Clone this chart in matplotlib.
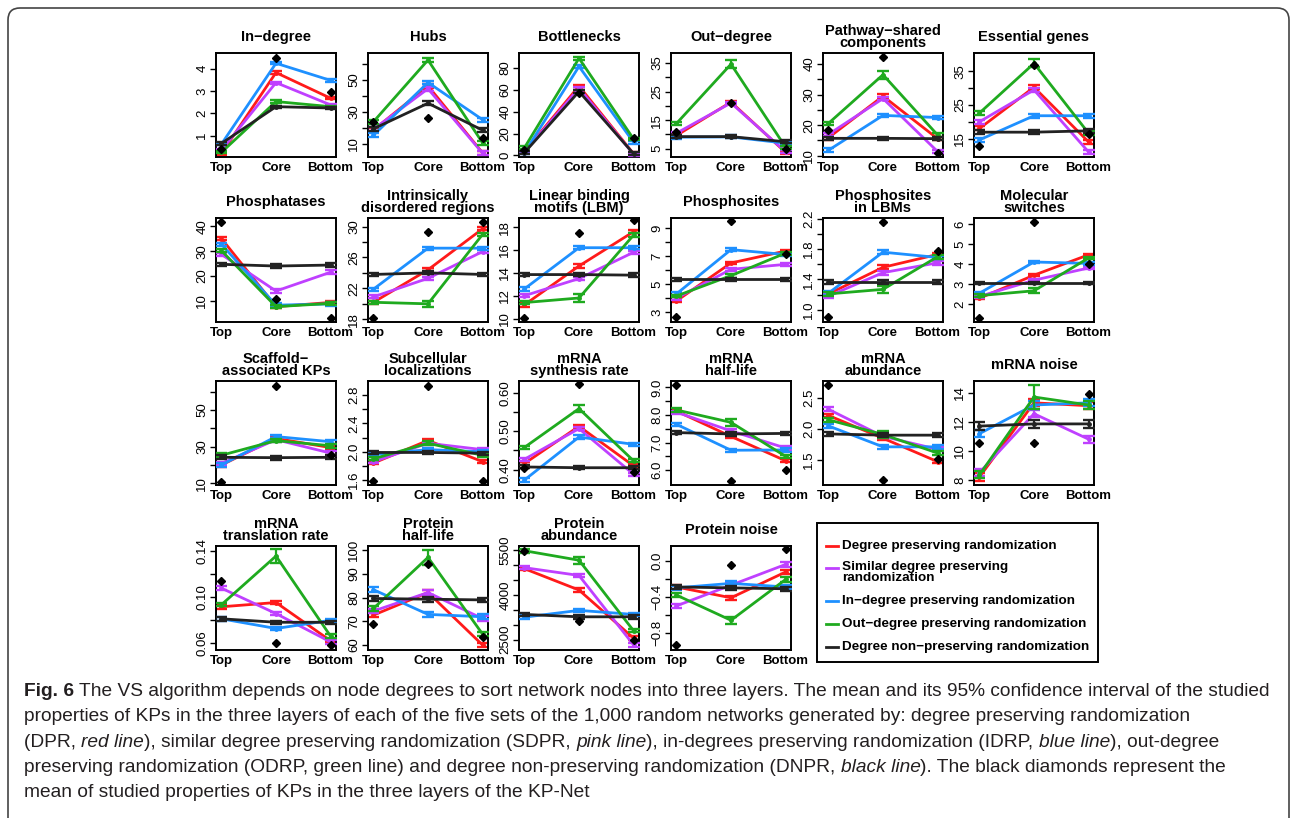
import numpy as np
import matplotlib
matplotlib.use('Agg')
import matplotlib.pyplot as plt
from matplotlib.patches import Rectangle, FancyBboxPatch
from matplotlib.lines import Line2D
from matplotlib.transforms import IdentityTransform
from matplotlib import font_manager

# ---- data ----
layers = ['Top', 'Core', 'Bottom']
titles = ['In\u2212degree', 'Hubs', 'Bottlenecks', 'Out\u2212degree',
          'Pathway\u2212shared\ncomponents', 'Essential genes',
          'Phosphatases', 'Intrinsically\ndisordered regions', 'Linear binding\nmotifs (LBM)',
          'Phosphosites', 'Phosphosites\nin LBMs', 'Molecular\nswitches',
          'Scaffold\u2212\nassociated KPs', 'Subcellular\nlocalizations', 'mRNA\nsynthesis rate',
          'mRNA\nhalf-life', 'mRNA\nabundance', 'mRNA noise',
          'mRNA\ntranslation rate', 'Protein\nhalf-life', 'Protein\nabundance', 'Protein noise']

# degree preserving randomization (red)
dpr = [[0.20, 3.83, 2.68], [18.5, 46.2, 4.2], [3.5, 63.5, 1.5], [9.6, 21.3, 3.7],
       [15.9, 29.5, 15.6], [18.0, 30.3, 14.0], [35.1, 7.6, 9.3], [20.2, 24.4, 29.7],
       [11.2, 14.6, 17.6], [3.8, 6.5, 7.35], [1.21, 1.56, 1.73], [2.29, 3.44, 4.46],
       [20.0, 34.5, 29.5], [1.84, 2.16, 1.86], [0.416, 0.513, 0.41], [8.14, 7.22, 6.34],
       [2.22, 1.85, 1.47], [8.2, 13.3, 13.1], [0.0914, 0.0951, 0.062], [72.6, 82.1, 60.0],
       [4875, 4159, 2545], [-0.29, -0.41, -0.124]]
# similar degree preserving randomization (purple)
sdpr = [[0.35, 3.38, 2.38], [19.0, 44.4, 4.0], [3.0, 61.5, 1.0], [10.4, 21.0, 3.9],
        [17.0, 28.7, 11.4], [20.0, 29.5, 11.0], [28.7, 13.9, 21.5], [20.9, 23.3, 26.75],
        [12.0, 13.5, 15.8], [4.0, 6.05, 6.4], [1.18, 1.49, 1.62], [2.38, 3.19, 3.8],
        [20.9, 33.8, 26.5], [1.86, 2.12, 2.03], [0.427, 0.507, 0.388], [8.10, 7.42, 6.8],
        [2.32, 1.88, 1.67], [8.5, 12.55, 10.8], [0.1075, 0.0855, 0.061], [74.3, 82.1, 71.1],
        [4909, 4648, 2318], [-0.50, -0.27, -0.04]]
# in-degree preserving randomization (blue)
idrp = [[0.62, 4.25, 3.48], [15.2, 48.3, 25.0], [2.5, 81.5, 12.0], [9.0, 9.1, 6.9],
        [11.8, 23.2, 22.5], [14.6, 21.8, 21.8], [32.8, 8.2, 8.7], [21.9, 27.2, 27.2],
        [12.6, 16.2, 16.2], [4.3, 7.45, 7.1], [1.22, 1.76, 1.69], [2.54, 4.1, 4.03],
        [20.0, 35.5, 32.7], [1.96, 2.03, 2.0], [0.373, 0.485, 0.466], [7.66, 6.72, 6.73],
        [2.05, 1.71, 1.71], [11.18, 13.15, 13.3], [0.081, 0.0726, 0.0797], [83.3, 72.9, 71.9],
        [3250, 3477, 3341], [-0.30, -0.25, -0.29]]
# out-degree preserving randomization (green)
odrp = [[0.25, 2.53, 2.30], [23.7, 62.4, 10.5], [7.0, 89.0, 15.0], [13.8, 34.6, 5.5],
        [20.6, 36.5, 16.8], [22.6, 37.4, 16.6], [30.2, 7.6, 8.9], [20.2, 20.0, 28.97],
        [11.4, 11.8, 17.3], [4.15, 5.6, 7.2], [1.21, 1.27, 1.70], [2.42, 2.66, 4.3],
        [25.3, 33.3, 30.5], [1.90, 2.12, 1.95], [0.458, 0.559, 0.423], [8.18, 7.73, 6.5],
        [2.15, 1.91, 1.61], [8.35, 13.7, 13.15], [0.0932, 0.1353, 0.066], [75.4, 96.9, 64.6],
        [5477, 5159, 2795], [-0.38, -0.66, -0.207]]
# degree non-preserving randomization (black)
dnpr = [[0.65, 2.30, 2.24], [19.3, 35.3, 18.4], [2.5, 58.5, 1.5], [9.2, 9.2, 7.4],
        [15.7, 15.7, 15.6], [16.9, 16.9, 17.3], [24.7, 24.0, 24.4], [23.8, 24.0, 23.8],
        [13.85, 13.85, 13.8], [5.35, 5.35, 5.35], [1.37, 1.37, 1.37], [3.05, 3.05, 3.05],
        [24.2, 24.0, 24.2], [1.99, 1.99, 1.98], [0.407, 0.405, 0.405], [7.36, 7.31, 7.33],
        [1.92, 1.90, 1.90], [11.7, 11.85, 11.85], [0.081, 0.078, 0.078], [79.6, 79.3, 79.0],
        [3341, 3261, 3261], [-0.29, -0.30, -0.31]]
# KP-Net (black diamonds)
kpnet = [[0.42, 4.50, 2.97], [23.5, 26.0, 13.7], [5.2, 57.0, 16.3], [10.9, 21.0, 5.0],
         [18.3, 42.2, 10.9], [12.8, 37.0, 16.5], [41.6, 10.7, 3.1], [18.2, 29.3, 30.6],
         [10.05, 17.5, 18.6], [2.65, 9.5, 7.15], [0.90, 2.16, 1.77], [1.32, 6.1, 4.0],
         [11.0, 63.3, 25.3], [1.58, 2.93, 1.58], [0.405, 0.622, 0.395], [9.08, 5.6, 6.02],
         [2.72, 1.17, 1.52], [10.57, 10.57, 13.88], [0.1136, 0.060, 0.058], [68.9, 94.3, 63.3],
         [5477, 3114, 2489], [-0.94, -0.05, 0.128]]

# half-width of the 95% CI (typical per panel) and for the green core point
ci = [0.05, 1.2, 1.2, 0.5, 0.6, 0.6, 0.7, 0.2, 0.15, 0.1, 0.025, 0.06,
      1.0, 0.02, 0.004, 0.06, 0.03, 0.25, 0.0015, 1.0, 60, 0.025]
odrp_core_ci = [0.06, 1.5, 1.5, 1.5, 1.3, 1.2, 0.7, 0.4, 0.35, 0.15, 0.05, 0.12,
                1.0, 0.03, 0.01, 0.12, 0.06, 0.8, 0.006, 3.3, 110, 0.04]

ylims = [(0.04, 4.71), (1.6, 66.8), (-1.5, 93.8), (2.06, 38.5), (9.6, 43.6), (9.5, 40.5),
         (1.4, 43.4), (17.65, 31.1), (9.7, 18.8), (2.3, 9.7), (0.84, 2.21), (1.1, 6.3),
         (9.1, 65.8), (1.53, 3.0), (0.36, 0.631), (5.46, 9.23), (1.09, 2.78), (7.65, 14.8),
         (0.054, 0.144), (57.9, 101.7), (2148, 5636), (-0.99, 0.165)]
yticks = [[1, 2, 3, 4], [10, 20, 30, 40, 50, 60], [0, 20, 40, 60, 80], [5, 10, 15, 20, 25, 30, 35],
          [10, 15, 20, 25, 30, 35, 40], [15, 20, 25, 30, 35], [10, 20, 30, 40],
          [18, 20, 22, 24, 26, 28, 30], [10, 12, 14, 16, 18], [3, 4, 5, 6, 7, 8, 9],
          [1.0, 1.2, 1.4, 1.6, 1.8, 2.0, 2.2], [2, 3, 4, 5, 6], [10, 20, 30, 40, 50, 60],
          [1.6, 1.8, 2.0, 2.2, 2.4, 2.6, 2.8], [0.40, 0.45, 0.50, 0.55, 0.60],
          [6.0, 6.5, 7.0, 7.5, 8.0, 8.5, 9.0], [1.5, 2.0, 2.5], [8, 10, 12, 14],
          [0.06, 0.08, 0.10, 0.12, 0.14], [60, 70, 80, 90, 100],
          [2500, 3000, 3500, 4000, 4500, 5000, 5500], [-0.8, -0.6, -0.4, -0.2, 0.0]]
ylabels = [['1', '2', '3', '4'], ['10', '', '30', '', '50', ''], ['0', '20', '40', '60', '80'],
           ['5', '', '15', '', '25', '', '35'], ['10', '', '20', '', '30', '', '40'],
           ['15', '', '25', '', '35'], ['10', '20', '30', '40'],
           ['18', '', '22', '', '26', '', '30'], ['10', '12', '14', '16', '18'],
           ['3', '', '5', '', '7', '', '9'], ['1.0', '', '1.4', '', '1.8', '', '2.2'],
           ['2', '3', '4', '5', '6'], ['10', '', '30', '', '50', ''],
           ['1.6', '', '2.0', '', '2.4', '', '2.8'], ['0.40', '', '0.50', '', '0.60'],
           ['6.0', '', '7.0', '', '8.0', '', '9.0'], ['1.5', '2.0', '2.5'], ['8', '10', '12', '14'],
           ['0.06', '', '0.10', '', '0.14'], ['60', '70', '80', '90', '100'],
           ['2500', '', '', '4000', '', '', '5500'], ['\u22120.8', '', '\u22120.4', '', '0.0']]

legend_labels = ['Degree preserving randomization', 'Similar degree preserving\nrandomization',
                 'In\u2212degree preserving randomization', 'Out\u2212degree preserving randomization',
                 'Degree non\u2212preserving randomization']
colors = ['#ff1a1a', '#bf40ff', '#1e90ff', '#1faa1f', '#222222']

caption = [
    [('Fig. 6', 'bold', 'normal'),
     (' The VS algorithm depends on node degrees to sort network nodes into three layers. '
      'The mean and its 95% confidence interval of the studied', 'normal', 'normal')],
    [('properties of KPs in the three layers of each of the five sets of the 1,000 random '
      'networks generated by: degree preserving randomization', 'normal', 'normal')],
    [('(DPR, ', 'normal', 'normal'), ('red line', 'normal', 'italic'),
     ('), similar degree preserving randomization (SDPR, ', 'normal', 'normal'),
     ('pink line', 'normal', 'italic'),
     ('), in-degrees preserving randomization (IDRP, ', 'normal', 'normal'),
     ('blue line', 'normal', 'italic'), ('), out-degree', 'normal', 'normal')],
    [('preserving randomization (ODRP, green line) and degree non-preserving randomization (DNPR, ',
      'normal', 'normal'), ('black line', 'normal', 'italic'),
     ('). The black diamonds represent the', 'normal', 'normal')],
    [('mean of studied properties of KPs in the three layers of the KP-Net', 'normal', 'normal')],
]

# ---- layout (pixels) ----
W, H = 1292, 818
col_left = [216, 368, 519, 671, 823, 974]
row_top = [53, 218, 381, 546]
ax_w, ax_h = 120, 104

plt.rcParams['font.family'] = ['Liberation Sans', 'DejaVu Sans']
fig = plt.figure(figsize=(W / 100, H / 100), dpi=100)

series = [dpr, sdpr, idrp, odrp, dnpr]
x = np.arange(1, 4)
for i, title in enumerate(titles):
    l, t = col_left[i % 6], row_top[i // 6]
    ax = fig.add_axes([l / W, 1 - (t + ax_h) / H, ax_w / W, ax_h / H])
    for k, vals in enumerate(series):
        err = np.full(3, ci[i], dtype=float)
        if k == 3:
            err[1] = odrp_core_ci[i]
        ax.errorbar(x, vals[i], yerr=err, color=colors[k], lw=2.0, elinewidth=1.6,
                    marker='o', ms=2.5, capsize=4.5, capthick=1.7, zorder=2 + k)
    ax.plot(x, kpnet[i], 'D', color='black', ms=3.6, zorder=10)
    ax.set_xlim(0.9, 3.1)
    ax.set_ylim(*ylims[i])
    ax.set_xticks(x, layers, fontweight='bold', fontsize=9.5)
    ax.tick_params(axis='x', length=0, pad=3.5)
    ax.set_yticks(yticks[i], ylabels[i], fontsize=9.5)
    ax.tick_params(axis='y', length=4, width=1, pad=1.5, labelrotation=90)
    for lab in ax.get_yticklabels():
        lab.set_va('center')
    for s in ax.spines.values():
        s.set_linewidth(1.4)
    ax.text(0.5, 1 + 16 / ax_h, title, transform=ax.transAxes, ha='center', va='center',
            fontsize=10.5, fontweight='bold', linespacing=0.9)

# legend box, drawn by hand
lx0, ly0, lx1, ly1 = 817, 523, 1098, 662
fig.patches.append(Rectangle((lx0 / W, 1 - ly1 / H), (lx1 - lx0) / W, (ly1 - ly0) / H,
                             transform=fig.transFigure, fill=False, lw=1.4, ec='black'))
entry_y = [546, 568, 601, 624, 647]
for lab, col, yy in zip(legend_labels, colors, entry_y):
    fig.add_artist(Line2D([826 / W, 838 / W], [1 - yy / H] * 2, color=col, lw=2,
                          transform=fig.transFigure))
    if '\n' in lab:
        fig.text(842 / W, 1 - (yy - 7) / H, lab, ha='left', va='top',
                 fontsize=9.7, fontweight='bold', linespacing=0.85)
    else:
        fig.text(842 / W, 1 - yy / H, lab, ha='left', va='center',
                 fontsize=9.7, fontweight='bold')

# outer frame
fig.patches.append(FancyBboxPatch((8, -20), 1281, 838 - 8, boxstyle='round,pad=0,rounding_size=12',
                                  transform=IdentityTransform(), fill=False, lw=1.2, ec='#444444'))

# caption with mixed styles
names = {f.name for f in font_manager.fontManager.ttflist}
cap_font = 'Liberation Sans Narrow' if 'Liberation Sans Narrow' in names else 'Liberation Sans'
renderer = fig.canvas.get_renderer()


def draw_line(pieces, x0, y, size):
    xpos = x0
    made = []
    for txt, weight, style in pieces:
        tt = fig.text(xpos / W, 1 - y / H, txt, fontsize=size, fontweight=weight, fontstyle=style,
                      family=[cap_font, 'DejaVu Sans'], color='#231f20', va='baseline', ha='left')
        bb = tt.get_window_extent(renderer=renderer)
        xpos += bb.width
        made.append(tt)
    return made, xpos


trial, end = draw_line(caption[0], 24, 696, 12)
for tt in trial:
    tt.remove()
size = 12 * (1275 - 24) / (end - 24)
for line, yb in zip(caption, [696, 721, 747, 772, 797]):
    draw_line(line, 24, yb, size)

fig.savefig('out.png', dpi=100)
